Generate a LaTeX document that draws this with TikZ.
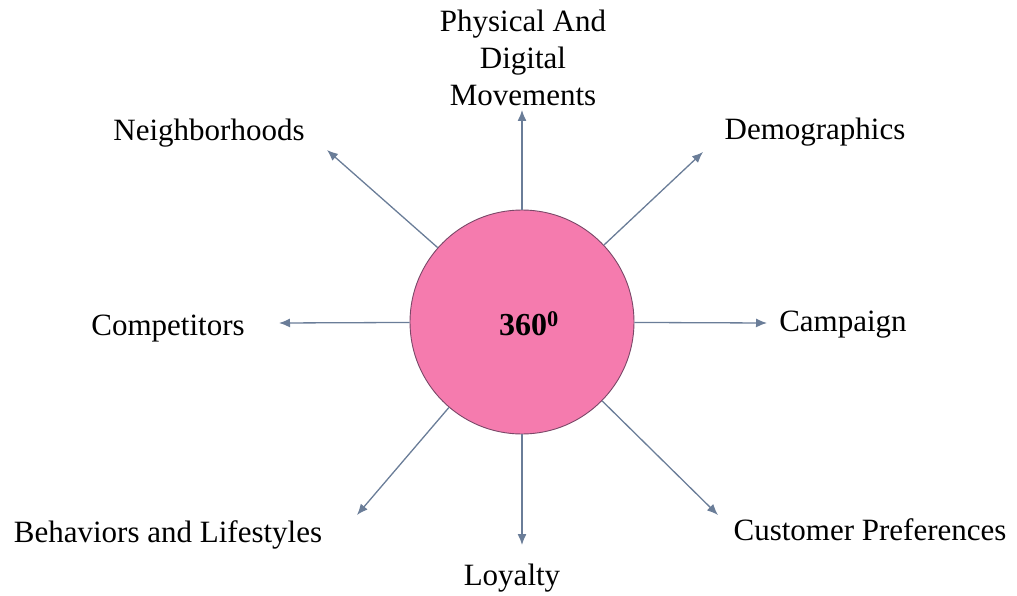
\documentclass[tikz,border=0pt]{standalone}
\usepackage{fontspec}
\setmainfont{Liberation Serif}
\usetikzlibrary{shapes, arrows.meta, positioning}
\definecolor{rosa}{HTML}{F57BAE}
\definecolor{rosaborde}{HTML}{7A4868}
\definecolor{flecha}{HTML}{6A7D98}
\tikzstyle{centro} = [circle, draw=rosaborde, fill=rosa, line width=0.9pt, minimum size=224pt, inner sep=0pt]
\tikzstyle{etiqueta} = [font=\fontsize{31}{37}\selectfont, inner sep=2pt, align=center]
\tikzstyle{rayo} = [draw=flecha, line width=1.3pt, -{Latex[length=11pt,width=9pt]}]

\begin{document}
\begin{tikzpicture}[x=1pt, y=-1pt]
	\useasboundingbox (0,0) rectangle (1017,596);
	\node[centro] (c) at (522,322) {};
	\node[font=\fontsize{32}{37}\selectfont\bfseries] at (529,324) {360$^{\mathbf{0}}$};

	\node[etiqueta] (mov) at (523,58) {Physical And\\Digital\\Movements};
	\node[etiqueta] (dem) at (815,132) {Demographics};
	\node[etiqueta] (cam) at (843,325) {Campaign};
	\node[etiqueta] (pref) at (870,530) {Customer Preferences};
	\node[etiqueta] (loy) at (512,578) {Loyalty};
	\node[etiqueta] (beh) at (168,535) {Behaviors and Lifestyles};
	\node[etiqueta] (comp) at (168,329) {Competitors};
	\node[etiqueta] (nei) at (209,133) {Neighborhoods};

	\coordinate (pmov) at (522,110);
	\coordinate (pdem) at (703,152);
	\coordinate (pcam) at (767,323);
	\coordinate (ppref) at (718,515);
	\coordinate (ploy) at (522,545);
	\coordinate (pbeh) at (357,515);
	\coordinate (pcomp) at (279,323);
	\coordinate (pnei) at (327,150);

	\foreach \p in {pmov, pdem, pcam, ppref, ploy, pbeh, pcomp, pnei}
		\draw[rayo] (c) -- (\p);
\end{tikzpicture}
\end{document}
